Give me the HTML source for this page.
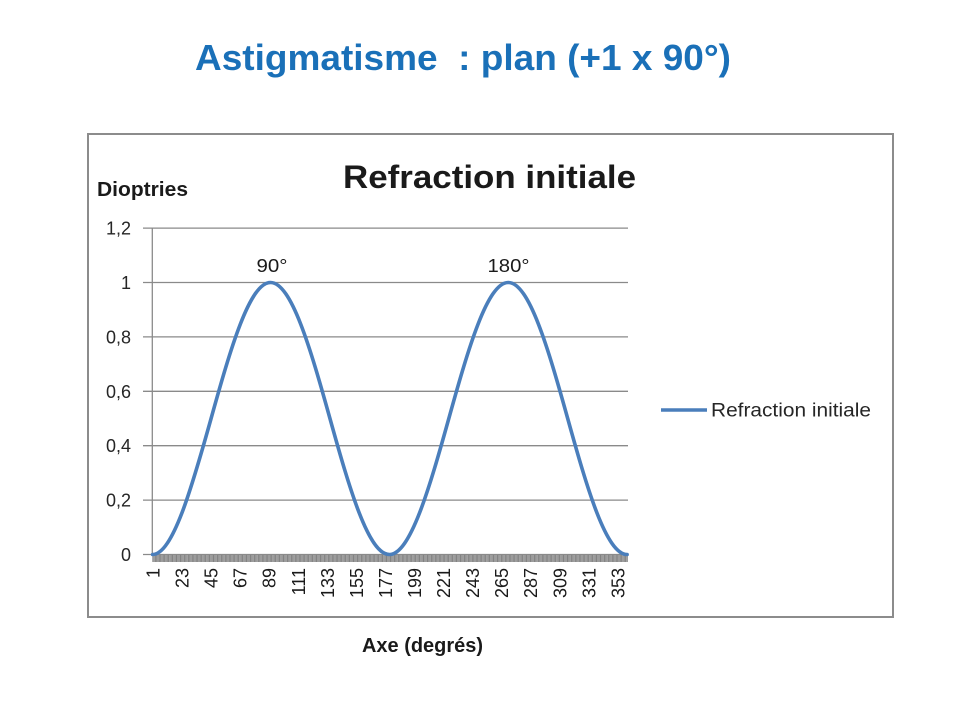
<!DOCTYPE html>
<html>
<head>
<meta charset="utf-8">
<style>
html,body{margin:0;padding:0;background:#fff;}
svg{display:block;}
</style>
</head>
<body>
<svg width="960" height="720" viewBox="0 0 960 720" xmlns="http://www.w3.org/2000/svg">
<defs>
<pattern id="ticks" x="152.3" y="0" width="1.3208" height="20" patternUnits="userSpaceOnUse">
<rect x="0" y="0" width="1.3208" height="20" fill="#c8c8c8"/>
<rect x="0" y="0" width="0.9" height="20" fill="#7e7e7e"/>
</pattern>
</defs>
<rect width="960" height="720" fill="#fff"/>

<!-- Main title -->
<text x="195" y="70" font-family="Liberation Sans, sans-serif" font-weight="bold" font-size="36" fill="#1a70b8" textLength="536" lengthAdjust="spacingAndGlyphs" xml:space="preserve">Astigmatisme  : plan (+1 x 90°)</text>

<!-- Chart border -->
<rect x="88" y="134" width="805" height="483" fill="#fff" stroke="#8c8c8c" stroke-width="2"/>

<!-- Chart title -->
<text x="343" y="188" font-family="Liberation Sans, sans-serif" font-weight="bold" font-size="32" fill="#1a1a1a" textLength="293" lengthAdjust="spacingAndGlyphs">Refraction initiale</text>

<!-- Y axis title -->
<text x="97" y="196" font-family="Liberation Sans, sans-serif" font-weight="bold" font-size="20" fill="#1a1a1a" textLength="91" lengthAdjust="spacingAndGlyphs">Dioptries</text>

<!-- Gridlines -->
<g stroke="#8a8a8a" stroke-width="1.3">
<line x1="143" y1="228.1" x2="628" y2="228.1"/>
<line x1="143" y1="282.5" x2="628" y2="282.5"/>
<line x1="143" y1="336.9" x2="628" y2="336.9"/>
<line x1="143" y1="391.3" x2="628" y2="391.3"/>
<line x1="143" y1="445.7" x2="628" y2="445.7"/>
<line x1="143" y1="500.1" x2="628" y2="500.1"/>
<line x1="143" y1="554.5" x2="628" y2="554.5"/>
<line x1="152.3" y1="228.1" x2="152.3" y2="555"/>
</g>

<!-- X tick band -->
<rect x="152.3" y="555" width="475.7" height="7" fill="url(#ticks)"/>

<!-- Y labels -->
<g font-family="Liberation Sans, sans-serif" font-size="18" fill="#262626" text-anchor="end">
<text x="131" y="234.6">1,2</text>
<text x="131" y="289">1</text>
<text x="131" y="343.4">0,8</text>
<text x="131" y="397.8">0,6</text>
<text x="131" y="452.2">0,4</text>
<text x="131" y="506.6">0,2</text>
<text x="131" y="561">0</text>
</g>

<!-- X labels -->
<g font-family="Liberation Sans, sans-serif" font-size="18" fill="#1a1a1a" text-anchor="end">
<text transform="translate(159.5,568) rotate(-90)">1</text>
<text transform="translate(188.5,568) rotate(-90)">23</text>
<text transform="translate(217.6,568) rotate(-90)">45</text>
<text transform="translate(246.6,568) rotate(-90)">67</text>
<text transform="translate(275.7,568) rotate(-90)">89</text>
<text transform="translate(304.8,568) rotate(-90)">111</text>
<text transform="translate(333.8,568) rotate(-90)">133</text>
<text transform="translate(362.9,568) rotate(-90)">155</text>
<text transform="translate(391.9,568) rotate(-90)">177</text>
<text transform="translate(421,568) rotate(-90)">199</text>
<text transform="translate(450,568) rotate(-90)">221</text>
<text transform="translate(479.1,568) rotate(-90)">243</text>
<text transform="translate(508.1,568) rotate(-90)">265</text>
<text transform="translate(537.2,568) rotate(-90)">287</text>
<text transform="translate(566.3,568) rotate(-90)">309</text>
<text transform="translate(595.3,568) rotate(-90)">331</text>
<text transform="translate(624.4,568) rotate(-90)">353</text>
</g>

<!-- Series -->
<path d="M152.6,554.5 C172.53,554.5 191.69,488.16 211.08,418.5 C230.46,348.84 249.62,282.5 270.51,282.5 C291.40,282.5 310.56,348.84 329.95,418.5 C349.33,488.16 368.49,554.5 389.38,554.5 C410.27,554.5 429.43,488.16 448.82,418.5 C468.20,348.84 487.36,282.5 508.25,282.5 C529.14,282.5 548.30,348.84 567.69,418.5 C587.07,488.16 606.23,554.5 627.12,554.5" fill="none" stroke="#4a7ebb" stroke-width="3.6" stroke-linejoin="round" stroke-linecap="round"/>

<!-- Data labels -->
<g font-family="Liberation Sans, sans-serif" font-size="18" fill="#1a1a1a" text-anchor="middle">
<text x="272" y="272" textLength="31" lengthAdjust="spacingAndGlyphs">90°</text>
<text x="508.5" y="272" textLength="42" lengthAdjust="spacingAndGlyphs">180°</text>
</g>

<!-- Legend -->
<line x1="661" y1="410" x2="707" y2="410" stroke="#4a7ebb" stroke-width="3.6"/>
<text x="711" y="416.5" font-family="Liberation Sans, sans-serif" font-size="19" fill="#262626" textLength="160" lengthAdjust="spacingAndGlyphs">Refraction initiale</text>

<!-- X axis title -->
<text x="362" y="652" font-family="Liberation Sans, sans-serif" font-weight="bold" font-size="20" fill="#1a1a1a" textLength="121" lengthAdjust="spacingAndGlyphs">Axe (degrés)</text>
</svg>
</body>
</html>
